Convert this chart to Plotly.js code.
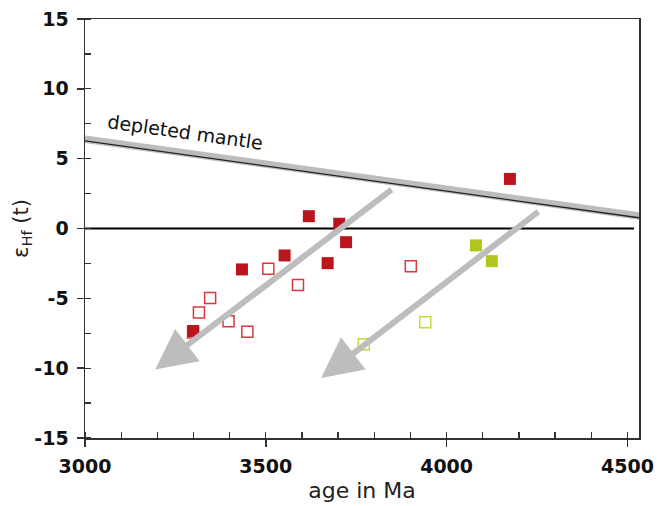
<!DOCTYPE html>
<html>
<head>
<meta charset="utf-8">
<script src="https://cdn.plot.ly/plotly-3.0.1.min.js"></script>
<style>html,body{margin:0;padding:0;background:#fff;}#chart{width:670px;height:506px;}</style>
</head>
<body>
<div id="chart"></div>
<script>
// ---- data ----
const redFilledAge = [3619, 3703, 3722, 3671, 3552, 3434, 3299, 4175];
const redFilledEps = [0.88, 0.34, -0.98, -2.48, -1.93, -2.93, -7.34, 3.55];
const redOpenAge = [3507, 3589, 3346, 3315, 3397, 3449, 3299, 3901];
const redOpenEps = [-2.88, -4.05, -4.98, -6.02, -6.64, -7.4, -7.45, -2.71];
const greenFilledAge = [4081, 4125];
const greenFilledEps = [-1.21, -2.34];
const greenOpenAge = [3941, 3771];
const greenOpenEps = [-6.71, -8.29];
const dmAge = [3000, 4532];
const dmBandEps = [6.4, 0.9];
const dmLineEps = [6.27, 0.77];
const churAge = [3000, 4518];
const churEps = [0, 0];
const arrowTailAge = [3852, 4258];
const arrowTailEps = [2.86, 1.29];
const arrowTipAge = [3194, 3653];
const arrowTipEps = [-10.1, -10.7];
const xTickVals = [3000, 3500, 4000, 4500];
const yTickVals = [-15, -10, -5, 0, 5, 10, 15];
const dmLabel = 'depleted mantle';

const FONT = 'DejaVu Sans, Verdana, sans-serif';

const traces = [
  {x: dmAge, y: dmBandEps, mode: 'lines', line: {color: '#bcbcbc', width: 7.5}, hoverinfo: 'skip', showlegend: false},
  {x: dmAge, y: dmLineEps, mode: 'lines', line: {color: '#222', width: 1.3}, hoverinfo: 'skip', showlegend: false},
  {x: churAge, y: churEps, mode: 'lines', line: {color: '#000', width: 2}, hoverinfo: 'skip', showlegend: false},
  {x: redOpenAge, y: redOpenEps, mode: 'markers', showlegend: false,
   marker: {symbol: 'square-open', size: 11, color: '#d8393f', line: {width: 1.5}}},
  {x: greenOpenAge, y: greenOpenEps, mode: 'markers', showlegend: false,
   marker: {symbol: 'square-open', size: 11, color: '#c4d83a', line: {width: 1.5}}},
  {x: redFilledAge, y: redFilledEps, mode: 'markers', showlegend: false,
   marker: {symbol: 'square', size: 12, color: '#bb141c'}},
  {x: greenFilledAge, y: greenFilledEps, mode: 'markers', showlegend: false,
   marker: {symbol: 'square', size: 12, color: '#b2c51e'}}
];

const annotations = arrowTailAge.map((a, i) => ({
  x: arrowTipAge[i], y: arrowTipEps[i], xref: 'x', yref: 'y',
  ax: arrowTailAge[i], ay: arrowTailEps[i], axref: 'x', ayref: 'y',
  text: '', showarrow: true, arrowhead: 2, arrowsize: 1.35, arrowwidth: 6,
  arrowcolor: '#bdbdbd', standoff: 0, startstandoff: 0
}));
annotations.push({
  x: 3279, y: 6.9, xref: 'x', yref: 'y', text: dmLabel, showarrow: false,
  textangle: 8, font: {family: FONT, size: 19, color: '#111'}
});

const layout = {
  width: 670, height: 506,
  margin: {l: 85, r: 31, t: 19, b: 68},
  paper_bgcolor: '#fff', plot_bgcolor: '#fff',
  font: {family: FONT, color: '#111'},
  xaxis: {
    range: [3000, 4532], tickvals: xTickVals, ticktext: xTickVals.map(String),
    ticks: 'outside', ticklen: 7, tickwidth: 1.5, tickcolor: '#333',
    minor: {dtick: 100, tick0: 3000, ticks: 'inside', ticklen: 6, tickwidth: 1.3, tickcolor: '#333'},
    showline: true, linecolor: '#333', linewidth: 1.5, mirror: true,
    showgrid: false, zeroline: false,
    tickfont: {family: FONT, size: 19, color: '#111', weight: 'bold'},
    ticklabelstandoff: 4,
    title: {text: 'age in Ma', font: {family: FONT, size: 22, color: '#222'}, standoff: 6}
  },
  yaxis: {
    range: [-15, 15], tickvals: yTickVals, ticktext: yTickVals.map(String),
    ticks: 'outside', ticklen: 7, tickwidth: 1.5, tickcolor: '#333',
    minor: {dtick: 2.5, tick0: 0, ticks: 'inside', ticklen: 6, tickwidth: 1.3, tickcolor: '#333'},
    showline: true, linecolor: '#333', linewidth: 1.5, mirror: true,
    showgrid: false, zeroline: false,
    tickfont: {family: FONT, size: 19, color: '#111', weight: 'bold'},
    ticklabelstandoff: 4,
    title: {text: 'ε<sub>Hf</sub> (t)', font: {family: FONT, size: 21, color: '#222'}, standoff: 0}
  },
  annotations: annotations
};

Plotly.newPlot('chart', traces, layout, {displayModeBar: false, staticPlot: true});
</script>
</body>
</html>
